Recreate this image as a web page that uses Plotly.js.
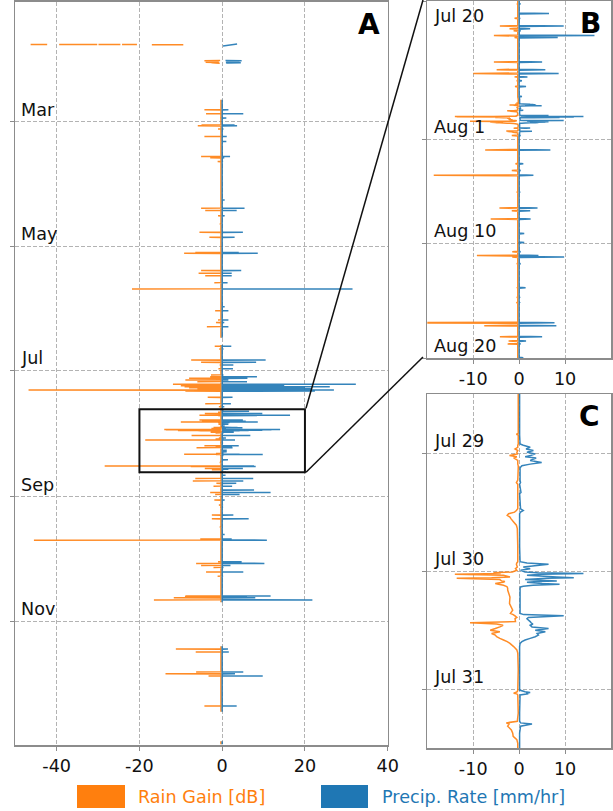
<!DOCTYPE html>
<html>
<head>
<meta charset="utf-8">
<script src="https://cdn.plot.ly/plotly-3.0.1.min.js"></script>
<style>html,body{margin:0;padding:0;background:#fff;}#chart{width:613px;height:811px;}</style>
</head>
<body>
<div id="chart"></div>
<script>
// ---------------- DATA ----------------
// Panel A: isolated rain events across the year (outside the Jul 20 - Aug 20 window)
const eventTime = ['2019-02-23 02:00','2019-02-25 00:00','2019-02-27 03:00','2019-03-02 12:00','2019-03-02 22:00','2019-03-04 12:00','2019-03-08 04:00','2019-03-10 14:00','2019-03-18 00:00','2019-03-18 15:00','2019-03-20 12:00','2019-04-08 07:00','2019-04-12 08:00','2019-04-13 12:00','2019-04-16 03:00','2019-04-20 02:00','2019-04-24 05:00','2019-04-26 16:00','2019-05-04 04:00','2019-05-04 12:00','2019-05-13 00:00','2019-05-14 07:00','2019-05-15 12:00','2019-05-18 22:00','2019-05-22 00:00','2019-05-30 17:00','2019-06-01 17:00','2019-06-06 05:00','2019-06-07 12:00','2019-06-09 12:00','2019-06-19 03:00','2019-06-20 12:00','2019-06-25 22:00','2019-06-27 00:00','2019-06-28 08:00','2019-06-30 03:00','2019-07-03 05:00','2019-07-04 02:00','2019-07-04 21:00','2019-07-05 17:00','2019-07-06 12:00','2019-07-07 19:00','2019-07-08 12:00','2019-07-09 00:00','2019-07-09 12:00','2019-07-10 00:00','2019-07-10 15:00','2019-07-11 03:00','2019-07-14 05:00','2019-07-17 07:00','2019-07-18 19:00','2019-08-21 10:00','2019-08-23 00:00','2019-08-24 05:00','2019-08-25 10:00','2019-08-26 19:00','2019-08-28 17:00','2019-08-29 22:00','2019-08-30 20:00','2019-09-02 15:00','2019-09-05 02:00','2019-09-06 05:00','2019-09-10 00:00','2019-09-11 20:00','2019-09-15 19:00','2019-09-19 12:00','2019-09-21 19:00','2019-09-22 07:00','2019-10-02 22:00','2019-10-03 17:00','2019-10-04 17:00','2019-10-05 17:00','2019-10-07 22:00','2019-10-10 00:00','2019-10-19 17:00','2019-10-20 03:00','2019-10-20 15:00','2019-10-21 15:00','2019-11-14 19:00','2019-11-16 05:00','2019-11-26 00:00','2019-11-26 22:00','2019-11-28 00:00','2019-12-12 17:00'];
const eventGain = [-4.3,-3.9,-0.5,-5.0,-5.9,-1.0,-4.3,-0.4,-5.1,-2.9,-1.1,-0.3,-5.1,-4.1,-1.0,-0.6,-5.5,-3.1,-6.5,-9.2,-5.1,-5.7,-4.1,-1.9,-21.8,-0.3,-1.7,-1.0,-1.5,-3.7,-1.8,-0.7,-7.5,-5.1,-0.6,-0.9,-2.7,-2.9,-8.0,-8.9,-6.0,-11.9,-10.0,-9.1,-8.0,-6.0,-46.8,-8.9,-3.5,-4.1,-0.8,-0.3,-6.5,-7.1,-1.4,-2.1,-0.5,-2.9,-1.7,-1.9,-0.8,-0.5,-2.5,-2.5,-0.6,-0.3,-5.3,-45.5,-1.0,-6.3,-5.1,-2.1,-3.9,-1.1,-8.9,-9.0,-11.7,-16.5,-11.2,-6.4,-6.3,-13.7,-3.3,-4.3];
const eventRate = [1.5,5.1,1.0,3.0,3.6,0.3,1.1,1.0,1.9,0.5,0.2,0.6,5.4,3.5,0.6,0.1,5.0,3.0,4.0,8.6,4.6,2.3,2.3,1.3,31.5,0.6,1.5,1.5,0.5,1.5,2.2,0.3,10.5,8.2,2.7,2.6,0.3,8.4,6.1,1.5,6.0,32.3,15.0,26.0,20.0,21.6,27.0,22.4,2.5,2.1,0.5,0.8,7.5,5.1,3.4,2.4,7.7,11.7,4.2,0.6,0.2,0.2,2.7,6.4,0.1,0.6,2.3,10.8,4.7,10.2,2.0,0.3,5.1,0.2,11.7,6.0,8.0,21.8,1.4,1.6,5.1,3.1,9.8,3.5];

// Panel B window: events between Jul 20 and Aug 20
const augTime = ['2019-07-20 06:00','2019-07-21 02:00','2019-07-21 12:00','2019-07-22 04:00','2019-07-22 10:00','2019-07-22 14:00','2019-07-23 00:00','2019-07-23 04:00','2019-07-25 07:00','2019-07-25 23:00','2019-07-26 07:00','2019-07-26 14:00','2019-07-26 22:00','2019-07-27 10:00','2019-07-28 07:00','2019-07-31 16:00','2019-08-01 22:00','2019-08-03 03:00','2019-08-03 17:00','2019-08-04 03:00','2019-08-05 14:00','2019-08-06 23:00','2019-08-07 05:00','2019-08-07 22:00','2019-08-09 04:00','2019-08-09 23:00','2019-08-10 18:00','2019-08-11 02:00','2019-08-11 05:00','2019-08-11 19:00','2019-08-13 21:00','2019-08-14 17:00','2019-08-15 04:00','2019-08-16 22:00','2019-08-17 04:00','2019-08-18 03:00','2019-08-18 12:00','2019-08-18 18:00','2019-08-19 23:00'];
const augGain = [-0.4,-0.3,-1.0,-4.2,-2.1,-1.2,-5.5,-1.0,-5.5,-4.9,-10.0,-1.0,-0.5,-0.9,-0.3,-1.6,-7.4,-0.8,-1.6,-18.6,-0.5,-4.3,-1.6,-6.2,-0.3,-0.2,-1.5,-9.2,-1.5,-0.5,-0.4,-0.5,-0.6,-28.4,-7.6,-4.2,-2.3,-2.5,-0.3];
const augRate = [0.3,6.5,0.2,9.7,2.4,0.3,16.4,8.4,5.0,5.7,8.6,1.8,0.6,1.5,0.6,0.3,6.8,0.9,0.3,3.1,0.2,4.0,2.4,2.5,1.1,1.1,0.3,4.2,9.8,0.3,1.4,0.1,0.1,7.7,8.1,5.0,1.5,0.3,0.9];

// Panel C: detailed record Jul 28 12:00 - Jul 31 12:00
const detailTime = ['2019-07-28 12:05','2019-07-28 16:00','2019-07-28 20:00','2019-07-28 20:10','2019-07-28 20:20','2019-07-28 22:10','2019-07-28 22:25','2019-07-28 22:50','2019-07-28 23:10','2019-07-28 23:30','2019-07-28 23:50','2019-07-29 00:10','2019-07-29 00:30','2019-07-29 00:45','2019-07-29 01:00','2019-07-29 01:30','2019-07-29 01:55','2019-07-29 02:15','2019-07-29 02:35','2019-07-29 03:00','2019-07-29 05:30','2019-07-29 06:00','2019-07-29 06:20','2019-07-29 08:00','2019-07-29 08:15','2019-07-29 11:20','2019-07-29 11:40','2019-07-29 12:00','2019-07-29 12:20','2019-07-29 12:40','2019-07-29 13:00','2019-07-29 13:20','2019-07-29 14:00','2019-07-29 14:40','2019-07-29 15:20','2019-07-29 19:00','2019-07-29 22:05','2019-07-29 22:20','2019-07-29 22:35','2019-07-29 23:10','2019-07-29 23:30','2019-07-29 23:50','2019-07-30 00:10','2019-07-30 00:20','2019-07-30 00:30','2019-07-30 00:38','2019-07-30 00:50','2019-07-30 01:10','2019-07-30 01:20','2019-07-30 01:27','2019-07-30 01:43','2019-07-30 02:00','2019-07-30 02:07','2019-07-30 02:15','2019-07-30 02:30','2019-07-30 02:40','2019-07-30 02:52','2019-07-30 03:05','2019-07-30 03:12','2019-07-30 03:30','2019-07-30 03:50','2019-07-30 05:15','2019-07-30 06:35','2019-07-30 07:55','2019-07-30 08:35','2019-07-30 08:50','2019-07-30 09:05','2019-07-30 09:25','2019-07-30 09:40','2019-07-30 10:15','2019-07-30 10:30','2019-07-30 10:45','2019-07-30 11:00','2019-07-30 11:20','2019-07-30 11:40','2019-07-30 12:00','2019-07-30 12:20','2019-07-30 12:40','2019-07-30 13:00','2019-07-30 13:20','2019-07-30 13:40','2019-07-30 14:00','2019-07-30 14:20','2019-07-30 14:40','2019-07-30 15:20','2019-07-30 16:00','2019-07-30 16:40','2019-07-30 20:00','2019-07-31 00:10','2019-07-31 00:30','2019-07-31 00:40','2019-07-31 00:48','2019-07-31 00:56','2019-07-31 01:10','2019-07-31 04:50','2019-07-31 06:30','2019-07-31 06:50','2019-07-31 07:05','2019-07-31 07:30','2019-07-31 08:15','2019-07-31 08:55','2019-07-31 09:35','2019-07-31 10:15','2019-07-31 11:00','2019-07-31 11:55'];
const detailGain = [-0.2,-0.2,-0.2,-0.6,-0.2,-0.2,-0.3,-0.3,-0.9,-0.3,-0.5,-0.4,-2.1,-0.5,-1.2,-0.3,-0.3,-0.3,-0.2,-0.2,-0.3,-0.6,-0.3,-0.3,-0.3,-0.3,-0.6,-1.0,-2.3,-2.6,-2.0,-1.8,-1.2,-0.6,-0.4,-0.3,-0.3,-0.5,-0.6,-0.4,-0.8,-0.5,-1.5,-5.6,-4.0,-14.0,-3.4,-2.0,-6.0,-13.6,-4.2,-3.8,-3.1,-3.5,-5.2,-4.5,-3.4,-2.8,-2.6,-2.5,-2.5,-2.0,-2.1,-1.4,-1.9,-1.3,-0.9,-0.5,-0.9,-0.8,-10.7,-4.9,-3.5,-4.2,-5.2,-6.3,-4.2,-6.0,-5.2,-4.9,-4.2,-3.4,-2.6,-2.0,-1.2,-0.5,-0.3,-0.2,-0.3,-0.4,-0.8,-1.2,-0.5,-0.3,-0.2,-0.4,-2.8,-2.2,-2.5,-1.7,-1.4,-1.3,-0.5,-0.3,-0.3];
const detailRate = [0.1,0.1,0.1,0.1,0.1,0.2,0.9,2.4,1.5,3.1,1.7,3.5,2.5,1.3,3.7,2.4,4.9,2.4,0.6,0.2,0.2,0.3,0.1,0.4,0.1,0.3,0.9,0.3,0.1,0.1,0.1,0.1,0.1,0.1,0.1,0.1,0.2,1.7,6.4,0.9,2.4,0.3,1.3,4.0,14.0,5.0,1.7,8.2,11.9,6.0,1.3,8.2,4.0,1.7,5.0,8.8,3.0,0.9,0.3,0.2,0.2,0.2,0.2,0.2,0.2,1.0,9.7,2.0,1.7,2.4,2.6,3.0,2.4,2.8,6.4,3.5,5.7,3.9,4.2,3.5,2.4,1.3,0.6,0.2,0.1,0.1,0.1,0.1,0.1,1.3,2.4,1.5,2.0,0.2,0.1,0.1,0.3,2.8,0.3,0.2,0.1,0.1,0.1,0.1,0.1];

// January: two short isolated records
const janGainTime = ['2019-01-22 00:00','2019-01-22 00:10','2019-01-22 00:20','2019-01-22 00:30','2019-01-22 00:40','2019-01-22 00:50','2019-01-22 01:00','2019-01-22 01:10','2019-01-22 01:20','2019-01-22 01:30','2019-01-22 01:40','2019-01-22 01:50','2019-01-22 02:00','2019-01-22 02:10','2019-01-25 00:00','2019-01-29 20:00','2019-01-30 00:00','2019-01-30 04:00','2019-01-30 08:00','2019-01-30 12:00','2019-01-30 16:00','2019-01-30 20:00','2019-01-31 00:00','2019-01-31 04:00'];
const janGain = [-46.3,-42.3,null,-39.4,-30.2,null,-29.9,-24.6,null,-24.2,-20.6,null,-17.0,-9.4,null,-0.5,-4.3,-1.2,-3.8,-0.8,-4.0,-1.5,-2.6,-0.6];
const janRateTime = ['2019-01-21 18:40','2019-01-22 18:00','2019-01-25 00:00','2019-01-29 20:00','2019-01-30 00:00','2019-01-30 04:00','2019-01-30 08:00','2019-01-30 12:00','2019-01-30 16:00','2019-01-30 20:00','2019-01-31 00:00','2019-01-31 04:00'];
const janRate = [3.6,0.2,null,0.8,4.7,1.2,4.2,1.0,3.5,0.9,4.5,1.0];

// Periods with a continuous record
const recordStart = ['2019-02-18 03:00','2019-06-18 12:00','2019-11-13 10:00','2019-12-30 00:00'];
const recordEnd   = ['2019-06-15 00:00','2019-10-22 19:00','2019-12-15 14:00','2019-12-31 12:00'];
const baseGain = -0.3, baseRate = 0;

// Axes / ticks
const yearRange = ['2019-01-01','2020-01-01'];
const monthTicks = ['2019-03-01','2019-05-01','2019-07-01','2019-09-01','2019-11-01'];
const monthLabels = ['Mar','May','Jul','Sep','Nov'];
const zoomBRange = ['2019-07-20','2019-08-20'];
const bTicks = ['2019-07-20','2019-08-01','2019-08-10','2019-08-20'];
const bLabels = ['Jul 20','Aug 1','Aug 10','Aug 20'];
const zoomCRange = ['2019-07-28 12:00','2019-07-31 12:00'];
const cTicks = ['2019-07-29','2019-07-30','2019-07-31'];
const cLabels = ['Jul 29','Jul 30','Jul 31'];
const xRangeA = [-50, 40];
const xTicksA = [-40, -20, 0, 20, 40];
const xRangeBC = [-20, 20];
const xTicksBC = [-10, 0, 10];
const seriesNames = ['Rain Gain [dB]', 'Precip. Rate [mm/hr]'];

// ---------------- BUILD ----------------
const ORANGE = '#ff7f0e', BLUE = '#1f77b4';
const FONT = 'DejaVu Sans';
const HOUR = 3600e3;
function ms(s){ const [d,t='00:00']=s.split(' '); const [Y,M,D]=d.split('-').map(Number); const [h,m]=t.split(':').map(Number); return Date.UTC(Y,M-1,D,h,m); }
function fmt(v){ const d=new Date(v); const p=n=>String(n).padStart(2,'0'); return d.getUTCFullYear()+'-'+p(d.getUTCMonth()+1)+'-'+p(d.getUTCDate())+' '+p(d.getUTCHours())+':'+p(d.getUTCMinutes())+':'+p(d.getUTCSeconds()); }

function buildRecord(){
  const pts=[];
  const spikes=(T,G,R)=>T.forEach((s,i)=>{const c=ms(s);pts.push([c-HOUR,baseGain,baseRate],[c,G[i],R[i]],[c+HOUR,baseGain,baseRate]);});
  spikes(eventTime,eventGain,eventRate);
  spikes(augTime,augGain,augRate);
  detailTime.forEach((s,i)=>pts.push([ms(s),detailGain[i],detailRate[i]]));
  recordStart.forEach((s,i)=>{pts.push([ms(s),baseGain,baseRate],[ms(recordEnd[i]),baseGain,baseRate],[ms(recordEnd[i])+60000,null,null]);});
  pts.sort((a,b)=>a[0]-b[0]);
  return {t:pts.map(p=>fmt(p[0])), g:pts.map(p=>p[1]), r:pts.map(p=>p[2])};
}
const rec = buildRecord();

const traces = [];
[['x','y'],['x2','y2'],['x3','y3']].forEach(([xa,ya])=>{
  traces.push({type:'scatter',mode:'lines',x:rec.g,y:rec.t,xaxis:xa,yaxis:ya,line:{color:ORANGE,width:1.5,simplify:false},opacity:0.9,connectgaps:false,showlegend:false,hoverinfo:'skip'});
  traces.push({type:'scatter',mode:'lines',x:janGain,y:janGainTime,xaxis:xa,yaxis:ya,line:{color:ORANGE,width:1.5,simplify:false},opacity:0.9,connectgaps:false,showlegend:false,hoverinfo:'skip'});
});
[['x','y'],['x2','y2'],['x3','y3']].forEach(([xa,ya])=>{
  traces.push({type:'scatter',mode:'lines',x:rec.r,y:rec.t,xaxis:xa,yaxis:ya,line:{color:BLUE,width:1.5,simplify:false},opacity:0.9,connectgaps:false,showlegend:false,hoverinfo:'skip'});
  traces.push({type:'scatter',mode:'lines',x:janRate,y:janRateTime,xaxis:xa,yaxis:ya,line:{color:BLUE,width:1.5,simplify:false},opacity:0.9,connectgaps:false,showlegend:false,hoverinfo:'skip'});
});

const W=613, Hh=811;
const px = v=>v/W, py = v=>1-v/Hh;
const axisBase = {showgrid:true, gridcolor:'#b3b3b3', gridwidth:1, griddash:'4px,2px', zeroline:false,
  showline:true, linecolor:'#8c8c8c', linewidth:1.5, mirror:true, ticks:'outside', ticklen:4, tickcolor:'#8c8c8c', tickwidth:1,
  tickfont:{family:FONT,size:17.6,color:'#111'}};
const tt = v=>String(v);

const layout = {
  width:W, height:Hh, margin:{l:0,r:0,t:0,b:0}, paper_bgcolor:'#fff', plot_bgcolor:'#fff', showlegend:false,
  font:{family:FONT},
  xaxis: Object.assign({}, axisBase, {domain:[px(15.3),px(387.7)], range:xRangeA, tickvals:xTicksA, ticktext:xTicksA.map(tt), anchor:'y'}),
  yaxis: Object.assign({}, axisBase, {type:'date', domain:[py(745.3),py(1.7)], range:[yearRange[1],yearRange[0]], tickvals:monthTicks, showticklabels:false, anchor:'x'}),
  xaxis2: Object.assign({}, axisBase, {domain:[px(427.3),px(611)], range:xRangeBC, tickvals:xTicksBC, ticktext:xTicksBC.map(tt), anchor:'y2'}),
  yaxis2: Object.assign({}, axisBase, {type:'date', domain:[py(358.3),py(1)], range:[zoomBRange[1],zoomBRange[0]], tickvals:bTicks, showticklabels:false, anchor:'x2'}),
  xaxis3: Object.assign({}, axisBase, {domain:[px(427.3),px(611)], range:xRangeBC, tickvals:xTicksBC, ticktext:xTicksBC.map(tt), anchor:'y3'}),
  yaxis3: Object.assign({}, axisBase, {type:'date', domain:[py(748.3),py(394)], range:[zoomCRange[1],zoomCRange[0]], tickvals:cTicks, showticklabels:false, anchor:'x3'}),
  annotations: [], shapes: []
};

const labFont = {family:FONT, size:17.6, color:'#111'};
function addLabels(ticks, labels, xr, yr, xpos, top){
  ticks.forEach((t,i)=>{
    const atTop = (t===top);
    layout.annotations.push({xref:xr+' domain', yref:yr, x:xpos, y:t, text:labels[i], showarrow:false,
      xanchor:'left', yanchor: atTop?'top':'bottom', yshift: atTop?-3:0, font:labFont});
  });
}
addLabels(monthTicks, monthLabels, 'x', 'y', 0.01, null);
addLabels(bTicks, bLabels, 'x2', 'y2', 0.024, zoomBRange[0]);
addLabels(cTicks, cLabels, 'x3', 'y3', 0.024, null);

const letterFont = {family:FONT, size:28, color:'#000'};
[['A','x','y',-6],['B','x2','y2',-8],['C','x3','y3',-9]].forEach(([L,xr,yr,xs])=>{
  layout.annotations.push({xref:xr+' domain', yref:yr+' domain', x:1, y:1, xanchor:'right', yanchor:'top', xshift:xs, yshift:-4,
    text:'<b>'+L+'</b>', showarrow:false, font:letterFont});
});

// zoom box on A and connectors
layout.shapes.push({type:'rect', xref:'x', yref:'y', x0:xRangeBC[0], x1:xRangeBC[1], y0:zoomBRange[0], y1:zoomBRange[1], line:{color:'#111',width:2}, fillcolor:'rgba(0,0,0,0)'});
layout.shapes.push({type:'line', xref:'paper', yref:'paper', x0:px(306), y0:py(408.3), x1:px(423), y1:py(0), line:{color:'#111',width:1.5}});
layout.shapes.push({type:'line', xref:'paper', yref:'paper', x0:px(306), y0:py(472.3), x1:px(423), y1:py(357), line:{color:'#111',width:1.5}});

// legend patches and labels
[[77,125,ORANGE,136,seriesNames[0]],[321,368,BLUE,380,seriesNames[1]]].forEach(([a,b,c,tx,name])=>{
  layout.shapes.push({type:'rect', xref:'paper', yref:'paper', x0:px(a), x1:px(b), y0:py(808), y1:py(785), line:{width:0}, fillcolor:c});
  layout.annotations.push({xref:'paper', yref:'paper', x:px(tx), y:py(796.5), xanchor:'left', yanchor:'middle', text:name, showarrow:false, font:{family:FONT,size:17.6,color:c}});
});

Plotly.newPlot('chart', traces, layout, {staticPlot:true, displayModeBar:false});
</script>
</body>
</html>
